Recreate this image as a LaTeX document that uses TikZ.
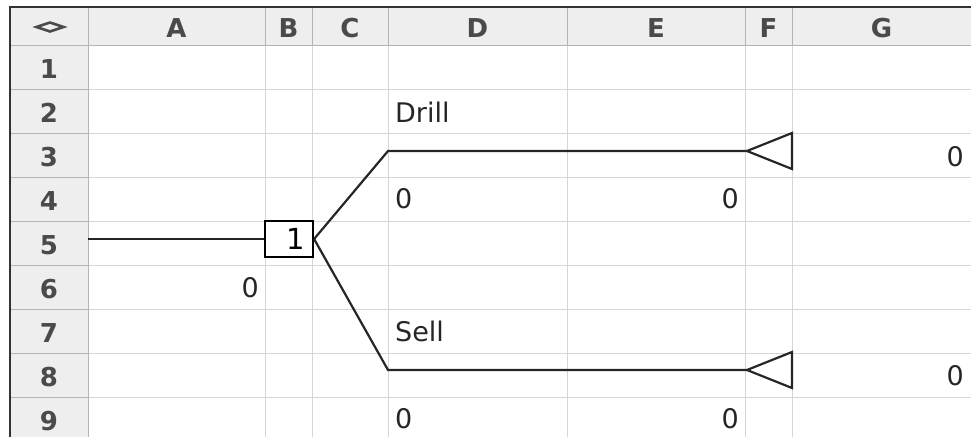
\documentclass[tikz,border=0pt]{standalone}
\usepackage{fontspec}
\setmainfont{DejaVu Sans}
\usepackage{tikz}
\usetikzlibrary{positioning,calc,shapes.geometric}
\definecolor{gridln}{HTML}{D6D6D6}
\definecolor{hdrfill}{HTML}{EEEEEE}
\definecolor{hdrln}{HTML}{B4B4B4}
\definecolor{hdrtxt}{HTML}{4A4A4A}
\tikzset{
  hdr/.style={font=\fontsize{26}{26}\selectfont\bfseries,text=hdrtxt,anchor=base,inner sep=0pt},
  val/.style={font=\fontsize{27}{27}\selectfont,inner sep=0pt,text=black!85},
  tree/.style={line width=2.2pt,black!85},
  decbox/.style={draw,line width=2.2pt,minimum width=48pt,minimum height=36pt,text width=32pt,align=right,inner xsep=8pt,inner ysep=0pt,text depth=0pt,font=\fontsize{29}{29}\selectfont},
}
\begin{document}
\begin{tikzpicture}[x=1pt,y=-1pt]
 \useasboundingbox (0,0) rectangle (971,437);
 % sheet frame and grid
 \fill[hdrfill] (10,7) rectangle (971,45); \fill[hdrfill] (10,45) rectangle (88,437);
 \foreach \x in {265,312,388,567,745,792}{\draw[gridln] (\x,45) -- (\x,437);}
 \foreach \y in {89,133,...,397}{\draw[gridln] (88,\y) -- (971,\y); \draw[hdrln] (10,\y) -- (88,\y);}
 \foreach \x in {88,265,312,388,567,745,792}{\draw[hdrln] (\x,7) -- (\x,45);}
 \draw[hdrln] (10,45) -- (971,45); \draw[hdrln] (88,45) -- (88,437);
 \draw[black!80,line width=1.2pt] (10,437) -- (10,7) -- (971,7);
 \node[draw=hdrtxt,diamond,aspect=2.7,line width=2.6pt,minimum width=28pt,minimum height=10pt,inner sep=0pt] (corner) at (50,27) {};
 \foreach \c/\x in {A/176.5,B/288.5,C/350,D/477.5,E/656,F/768.5,G/881.5}{\node[hdr] (h\c) at (\x,37) {\c};}
 \foreach \r in {1,...,9}{\node[hdr] (r\r) at (49,{34+44*\r}) {\r};}
 % decision tree
 \node[decbox] (dec) at (289,239) {1};
 \coordinate (root) at (88,239);
 \coordinate (dk) at (388,151); \coordinate (sk) at (388,370);
 \coordinate (dt) at (747,151); \coordinate (st) at (747,370);
 \draw[tree] (root) -- (dec.west);
 \draw[tree] (dec.east) -- (dk) -- (dt); \draw[tree] (dec.east) -- (sk) -- (st);
 \draw[tree] (dt) -- ++(45,-18) -- ++(0,36) -- cycle;
 \draw[tree] (st) -- ++(45,-18) -- ++(0,36) -- cycle;
 % cell values
 \node[val,anchor=base west] (lDrill) at (395,122) {Drill};
 \node[val,anchor=base east] (vG3) at (964,166) {0};
 \node[val,anchor=base west] (vD4) at (395,208) {0}; \node[val,anchor=base east] (vE4) at (739,208) {0};
 \node[val,anchor=base east] (vA6) at (259,297) {0};
 \node[val,anchor=base west] (lSell) at (395,341) {Sell};
 \node[val,anchor=base east] (vG8) at (964,385) {0};
 \node[val,anchor=base west] (vD9) at (395,428) {0}; \node[val,anchor=base east] (vE9) at (739,428) {0};
\end{tikzpicture}
\end{document}
